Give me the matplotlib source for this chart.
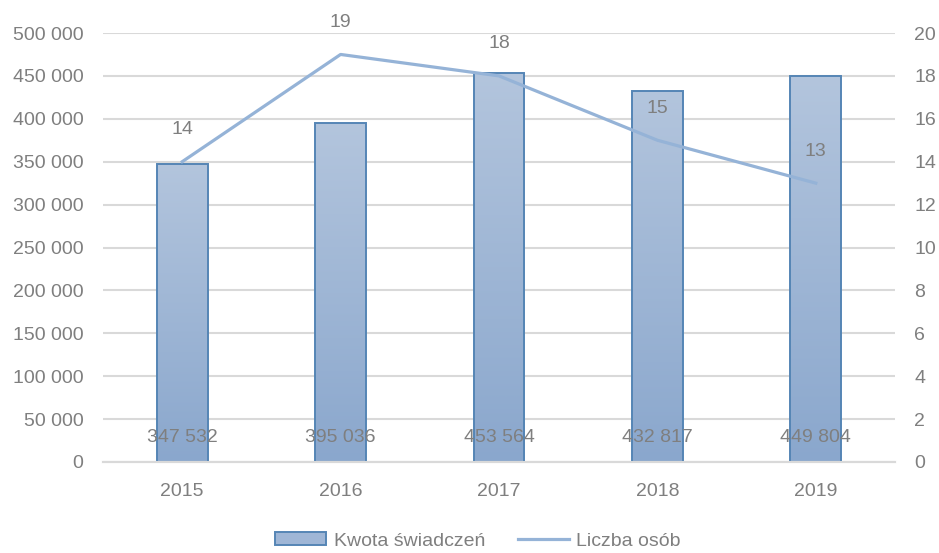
import matplotlib
matplotlib.use("Agg")
import matplotlib.pyplot as plt
import numpy as np
from matplotlib.patches import Patch
from matplotlib.lines import Line2D
from matplotlib.colors import LinearSegmentedColormap

years = ["2015", "2016", "2017", "2018", "2019"]
kwota = [347532, 395036, 453564, 432817, 449804]
liczba = [14, 19, 18, 15, 13]
kwota_labels = ["347 532", "395 036", "453 564", "432 817", "449 804"]
left_ticks = [0, 50000, 100000, 150000, 200000, 250000, 300000, 350000, 400000, 450000, 500000]
left_tick_labels = ["0", "50 000", "100 000", "150 000", "200 000", "250 000", "300 000",
                    "350 000", "400 000", "450 000", "500 000"]
right_ticks = [0, 2, 4, 6, 8, 10, 12, 14, 16, 18, 20]

plt.rcParams['font.family'] = ['Liberation Sans', 'DejaVu Sans']
FS = 14
TXT = "#7f7f7f"

fig = plt.figure(figsize=(9.39, 5.53), dpi=100)
W, H = 939, 553
ax = fig.add_axes([103 / W, (H - 462) / H, (895 - 103) / W, (462 - 33) / H])
ax2 = ax.twinx()

x = np.arange(len(years))
bw = 0.32
ax.set_xlim(-0.5, len(years) - 0.5)
ax.set_ylim(0, 500000)
ax2.set_ylim(0, 20)

ax.set_yticks(left_ticks)
ax.set_yticklabels(left_tick_labels)
ax2.set_yticks(right_ticks)
ax2.set_yticklabels([str(t) for t in right_ticks])
ax.set_xticks(x)
ax.set_xticklabels(years)

ax.grid(axis='y', color='#d9d9d9', linewidth=1.5)
ax.set_axisbelow(True)
for a in (ax, ax2):
    for s in ['top', 'left', 'right']:
        a.spines[s].set_visible(False)
    a.spines['bottom'].set_color('#d9d9d9')
    a.spines['bottom'].set_linewidth(1.5)
ax.tick_params(axis='both', length=0, labelsize=FS, labelcolor=TXT)
ax.tick_params(axis='y', pad=14)
ax.tick_params(axis='x', pad=15)
ax2.tick_params(axis='y', length=0, labelsize=FS, labelcolor=TXT, pad=14)

cmap = LinearSegmentedColormap.from_list("g", ["#8aa7cd", "#b3c5dd"])
grad = np.linspace(0, 1, 256).reshape(-1, 1)
bars = ax.bar(x, kwota, width=bw, facecolor='none', edgecolor='#5585b5', linewidth=1.4, zorder=3)
for b in bars:
    x0, y0 = b.get_x(), b.get_y()
    w, h = b.get_width(), b.get_height()
    im = ax.imshow(grad, cmap=cmap, aspect='auto', origin='lower',
                   extent=[x0, x0 + w, y0, y0 + h], zorder=2)
    im.set_clip_path(b)
ax.set_xlim(-0.5, len(years) - 0.5)
ax.set_ylim(0, 500000)

for xi, lab in zip(x, kwota_labels):
    ax.annotate(lab, (xi, 0), xytext=(0, 18), textcoords='offset points',
                ha='center', va='center', fontsize=FS, color=TXT, zorder=5)

ax2.plot(x, liczba, color='#95b3d7', linewidth=2.3, zorder=4)
for xi, v in zip(x, liczba):
    ax2.annotate(str(v), (xi, v), xytext=(0, 23), textcoords='offset points',
                 ha='center', va='center', fontsize=FS, color=TXT)

handles = [Patch(facecolor='#9fb6d6', edgecolor='#5585b5', linewidth=1.4),
           Line2D([0], [0], color='#95b3d7', linewidth=2.3)]
fig.legend(handles, ["Kwota świadczeń", "Liczba osób"], loc='center',
           bbox_to_anchor=(478 / W, 1 - 541 / H), ncol=2, frameon=False,
           fontsize=FS, labelcolor=TXT, handlelength=2.6, handleheight=0.6,
           handletextpad=0.4, columnspacing=1.7)

fig.savefig("out.png", dpi=100)
